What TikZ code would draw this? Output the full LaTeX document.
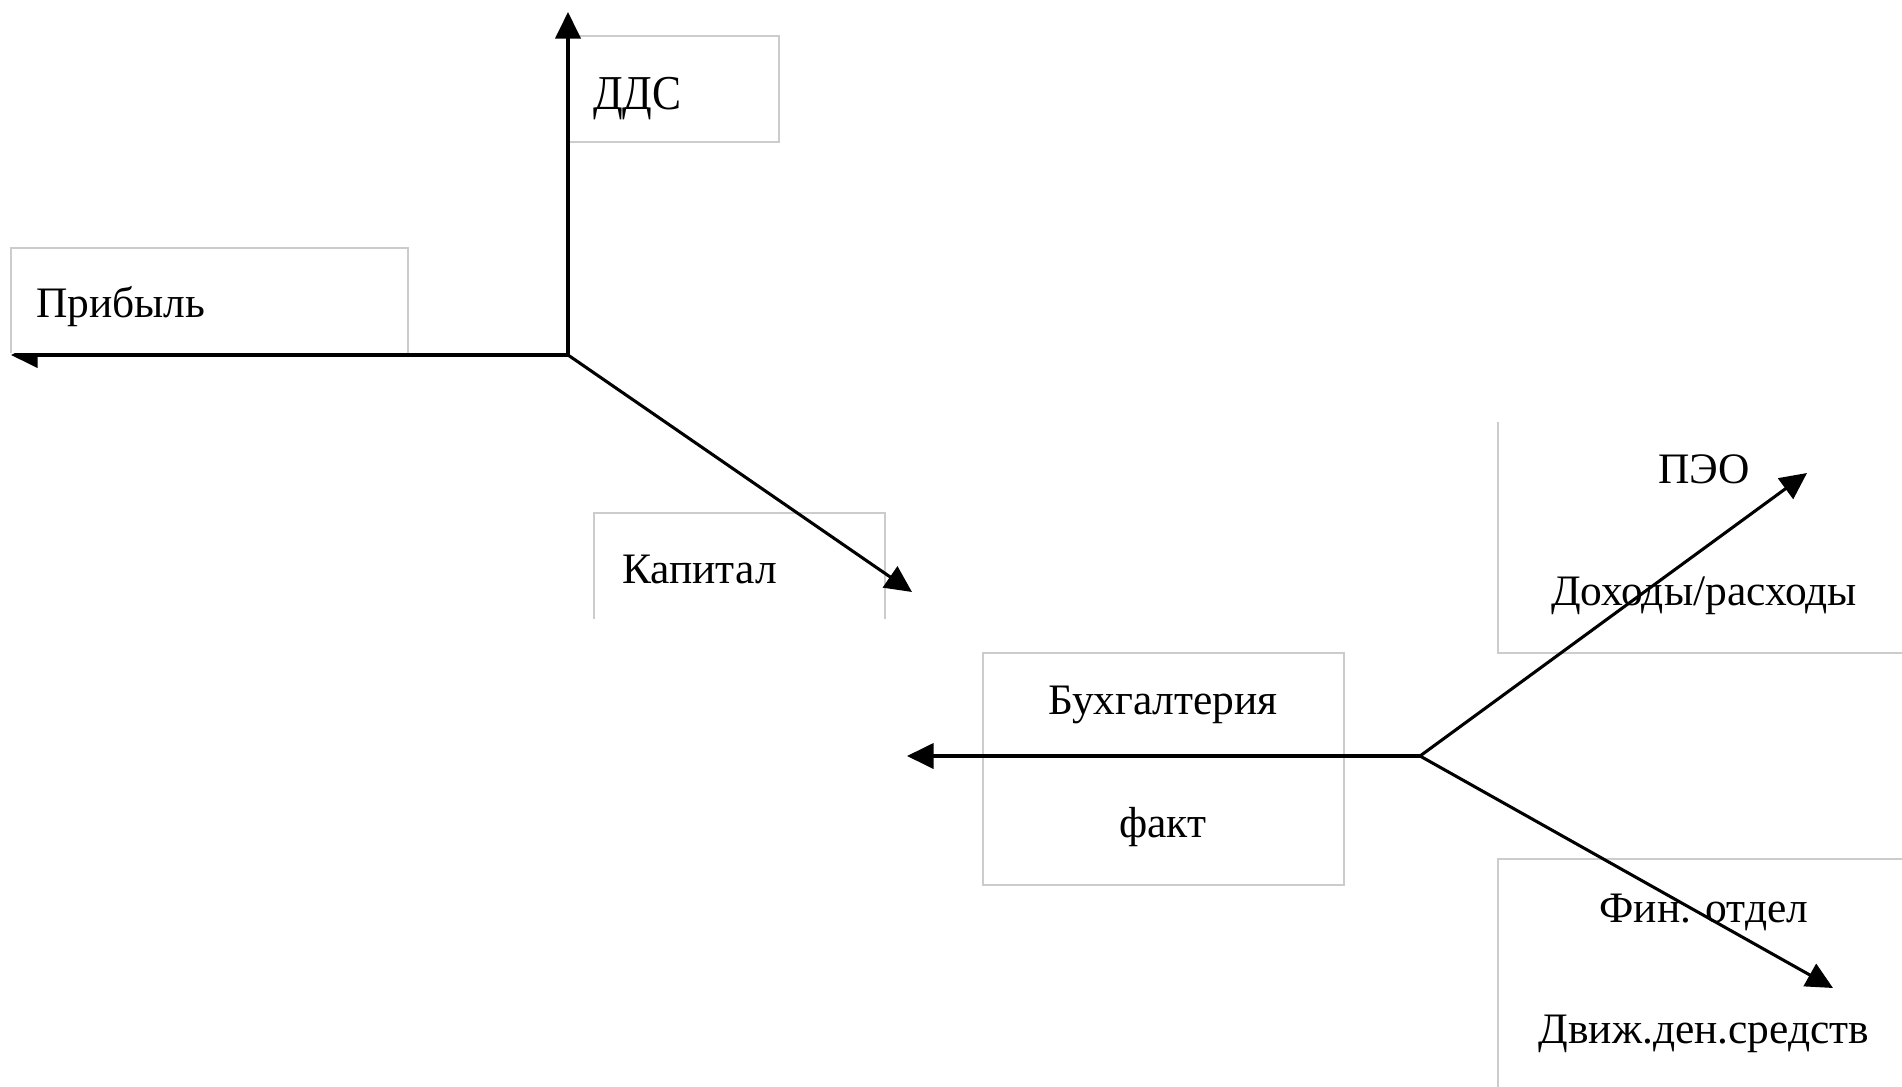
\documentclass[tikz,border=0pt]{standalone}
\usepackage{fontspec}
\setmainfont{Liberation Serif}
\usetikzlibrary{arrows.meta,fit}
\begin{document}
\begin{tikzpicture}[x=0.75pt,y=-0.75pt,
  boxfill/.style={fill=white,draw=none,inner sep=0pt,outer sep=0pt},
  boxline/.style={draw=black!20,line width=0.8pt},
  lbl/.style={font=\fontsize{32.6}{38}\selectfont,inner sep=0pt,text=black},
  conn/.style={line width=2.3pt,-{Triangle[length=20pt,width=19pt]}}]
\useasboundingbox[fill=white] (0,0) rectangle (1902,1087);

% boxes (white backgrounds)
\node[boxfill,fit={(568,36) (779,142)}] (ddsbox) {};
\node[boxfill,fit={(594,513) (885,619)}] (kapbox) {};
\node[boxfill,fit={(983,653) (1344,885)}] (buhbox) {};
\node[boxfill,fit={(1498,422) (1902,653)}] (peobox) {};
\node[boxfill,fit={(1498,859) (1902,1087)}] (finbox) {};

% borders
\draw[boxline] (ddsbox.south west) rectangle (ddsbox.north east);
\draw[boxline] (kapbox.south west) -- (kapbox.north west) -- (kapbox.north east) -- (kapbox.south east);
\draw[boxline] (buhbox.south west) rectangle (buhbox.north east);
\draw[boxline] (peobox.north west) -- (peobox.south west) -- (peobox.south east);
\draw[boxline] (finbox.south west) -- (finbox.north west) -- (finbox.north east);

% texts
\node[lbl,anchor=base west,yscale=1.12] (dds) at (593,110) {ДДС};
\node[lbl,anchor=base west] (kap) at (622,583) {Капитал};
\node[lbl,anchor=base] (buh) at (1163,714) {Бухгалтерия};
\node[lbl,anchor=base] (fakt) at (1163,837) {факт};
\node[lbl,anchor=base] (peo) at (1704,483) {ПЭО};
\node[lbl,anchor=base] (dohod) at (1704,605) {Доходы/расходы};
\node[lbl,anchor=base] (fin) at (1704,922) {Фин. отдел};
\node[lbl,anchor=base] (dvizh) at (1704,1043) {Движ.ден.средств};

% hubs and arrow ends
\coordinate (h1) at (568,355);
\coordinate (h2) at (1420,756);
\coordinate (tdds) at (568,12);
\coordinate (tprib) at (11,355);
\coordinate (tkap) at (912,592);
\coordinate (tbuh) at (907,756);
\coordinate (tpeo) at (1807,473);
\coordinate (tfin) at (1833,988);

\draw[conn] (h1) -- (tdds);
\draw[conn] (h1) -- (tprib);
\draw[conn] (h1) -- (tkap);
\draw[conn] (h2) -- (tbuh);
\draw[conn] (h2) -- (tpeo);
\draw[conn] (h2) -- (tfin);

% Прибыль box drawn on top (hides upper half of its arrowhead)
\node[boxfill,fit={(11,248) (408,353.5)}] (pribbox) {};
\draw[boxline] (pribbox.south west) -- (pribbox.north west) -- (pribbox.north east) -- (pribbox.south east);
\node[lbl,anchor=base west] (prib) at (36,318) {Прибыль};
\end{tikzpicture}
\end{document}
